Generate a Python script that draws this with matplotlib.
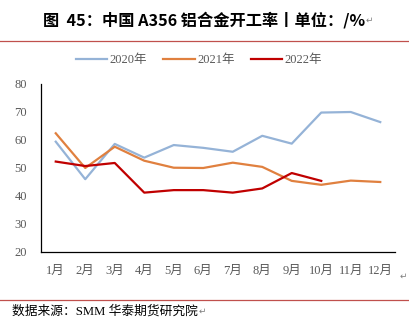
import numpy as np
import matplotlib.pyplot as plt
from matplotlib.lines import Line2D

plt.rcParams['font.family'] = ['Liberation Serif', 'Noto Sans CJK SC', 'DejaVu Sans']

# 月份与各年开工率（%）
months = ['1月', '2月', '3月', '4月', '5月', '6月', '7月', '8月', '9月', '10月', '11月', '12月']
rate_2020 = [59.4, 46.0, 58.6, 53.7, 58.2, 57.2, 55.8, 61.5, 58.7, 69.8, 70.0, 66.4]
rate_2021 = [62.4, 50.0, 57.6, 52.6, 50.1, 50.0, 51.9, 50.4, 45.4, 44.0, 45.5, 45.0]
rate_2022 = [52.3, 50.7, 51.8, 41.2, 42.1, 42.1, 41.2, 42.7, 48.2, 45.4]
series_names = ['2020年', '2021年', '2022年']
colors = ['#95B3D7', '#E0803F', '#C00000']
yticks = [20, 30, 40, 50, 60, 70, 80]

fig = plt.figure(figsize=(4.10, 3.27), dpi=100)
W, H = 410, 327


def mark_after(txt, size):
    # 在文字后补一个段落标记
    fig.canvas.draw()
    bb = txt.get_window_extent()
    fig.text(bb.x1 / W + 0.002, (bb.y0 + bb.y1) / 2 / H, '↵', ha='left', va='center',
             fontsize=size, color='#808080', family=['DejaVu Sans'])


# 标题
title = fig.text(43 / W, 1 - 20 / H, '图  45：中国 A356 铝合金开工率丨单位：/%', ha='left', va='center',
                 fontsize=11.7, fontweight='bold', family=['Noto Sans CJK SC', 'DejaVu Sans'],
                 color='black')
mark_after(title, 6.5)
fig.add_artist(Line2D([0, 1], [1 - 41 / H] * 2, color='#C0504D', lw=0.9, transform=fig.transFigure))

ax = fig.add_axes([41 / W, 1 - 252 / H, (395 - 41) / W, (252 - 84) / H])
x = np.arange(len(months))
for name, vals, c in zip(series_names, [rate_2020, rate_2021, rate_2022], colors):
    ax.plot(x[:len(vals)], vals, color=c, lw=1.6, label=name, solid_joinstyle='round')

ax.set_xlim(-0.5, len(months) - 0.5)
ax.set_ylim(20, 80)
ax.set_yticks(yticks)
ax.set_xticks(x)
ax.set_xticklabels(months)
ax.tick_params(length=0, labelsize=9, colors='#595959')
ax.tick_params(axis='x', pad=9)
ax.tick_params(axis='y', pad=10)
for s in ['top', 'right']:
    ax.spines[s].set_visible(False)
for s in ['left', 'bottom']:
    ax.spines[s].set_color('black')
    ax.spines[s].set_linewidth(0.9)

ax.legend(loc='center', bbox_to_anchor=(199 / W, 1 - 60 / H), bbox_transform=fig.transFigure,
          ncol=3, frameon=False, fontsize=9, labelcolor='#595959', handlelength=2.5,
          handletextpad=0.2, columnspacing=1.3)

fig.text(403 / W, 1 - 276 / H, '↵', ha='center', va='center', fontsize=6.5, color='#808080',
         family=['DejaVu Sans'])

# 数据来源
fig.add_artist(Line2D([0, 1], [1 - 300 / H] * 2, color='#C0504D', lw=0.9, transform=fig.transFigure))
src = fig.text(12 / W, 1 - 311 / H, '数据来源：SMM 华泰期货研究院', ha='left', va='center', fontsize=9.2,
               color='black')
mark_after(src, 6.5)

fig.savefig('out.png', dpi=100)
